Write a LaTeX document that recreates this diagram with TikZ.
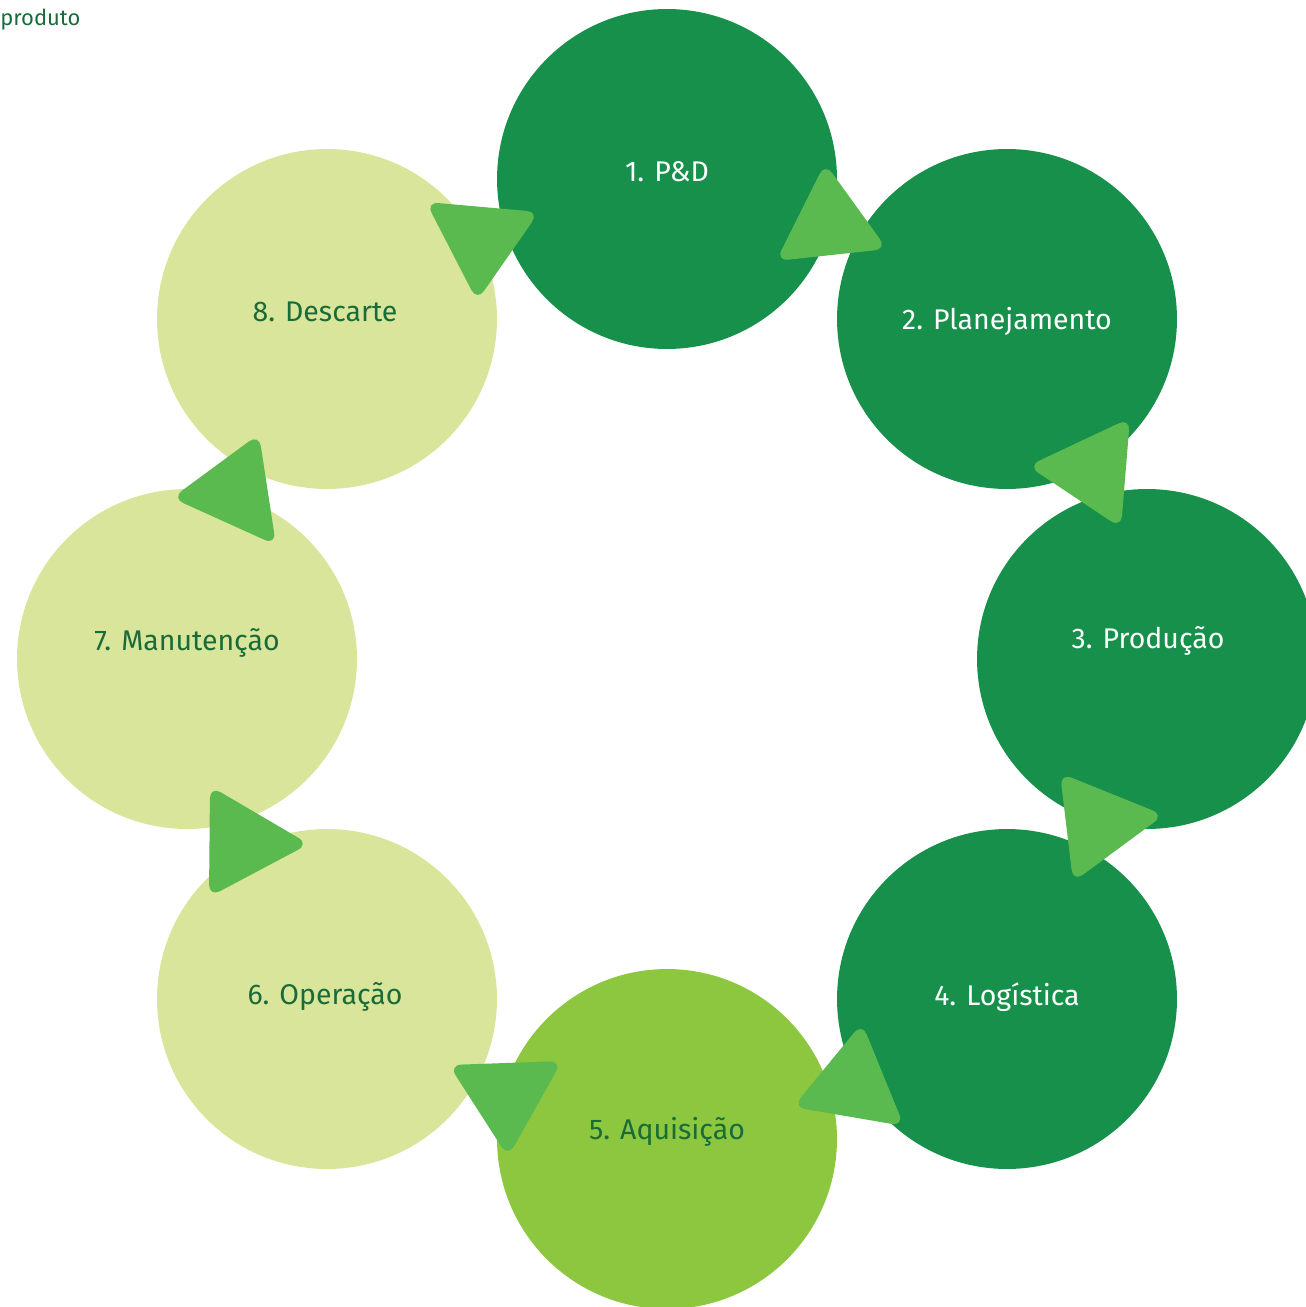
\documentclass[tikz,border=0pt]{standalone}
\usepackage{fontspec}
\setmainfont{Fira Sans}
\definecolor{darkg}{HTML}{16904A}
\definecolor{limeg}{HTML}{8DC63F}
\definecolor{paleg}{HTML}{D9E59A}
\definecolor{trig}{HTML}{5BBA4F}
\definecolor{txtg}{HTML}{1A6B3A}
\tikzset{
  stage/.style={circle, minimum size=6.8cm, inner sep=0pt},
  darkstage/.style={stage, fill=darkg},
  limestage/.style={stage, fill=limeg},
  palestage/.style={stage, fill=paleg},
  lbl/.style={inner sep=0pt, font=\fontsize{16.2}{18}\selectfont},
  lightlbl/.style={lbl, text=white},
  darklbl/.style={lbl, text=txtg},
  tri/.style={fill=trig, rounded corners=7pt}
}
\begin{document}
\begin{tikzpicture}[x=0.02cm, y=-0.02cm]
\useasboundingbox (0,0) rectangle (1305,1307);
\node[anchor=base west, text=txtg, font=\fontsize{12.5}{14}\selectfont, inner sep=0pt] (title) at (0,26) {produto};
\node[darkstage] (s1) at (667,179) {};
\node[darkstage] (s2) at (1007,319) {};
\node[darkstage] (s3) at (1147,659) {};
\node[darkstage] (s4) at (1007,999) {};
\node[limestage] (s5) at (667,1139) {};
\node[palestage] (s6) at (327,999) {};
\node[palestage] (s7) at (187,659) {};
\node[palestage] (s8) at (327,319) {};
\node[lightlbl] (t1) at (667,172) {1. P\&D};
\node[lightlbl] (t2) at (1007,321) {2. Planejamento};
\node[lightlbl] (t3) at (1148,641) {3. Produção};
\node[lightlbl] (t4) at (1007,997) {4. Logística};
\node[darklbl] (t5) at (667,1132) {5. Aquisição};
\node[darklbl] (t6) at (325,997) {6. Operação};
\node[darklbl] (t7) at (187,643) {7. Manutenção};
\node[darklbl] (t8) at (325,312) {8. Descarte};
% triangles
\fill[tri] (825,163) -- (887,249) -- (776,261) -- cycle;
\fill[tri] (1130,418) -- (1121,528) -- (1028,466) -- cycle;
\fill[tri] (1060,773) -- (1164,815) -- (1073,882) -- cycle;
\fill[tri] (862,1023) -- (904,1126) -- (793,1107) -- cycle;
\fill[tri] (449,1065) -- (562,1061) -- (508,1157) -- cycle;
\fill[tri] (210,786) -- (309,844) -- (209,897) -- cycle;
\fill[tri] (172,498) -- (259,434) -- (276,545) -- cycle;
\fill[tri] (426,202) -- (539,212) -- (477,301) -- cycle;
\end{tikzpicture}
\end{document}
